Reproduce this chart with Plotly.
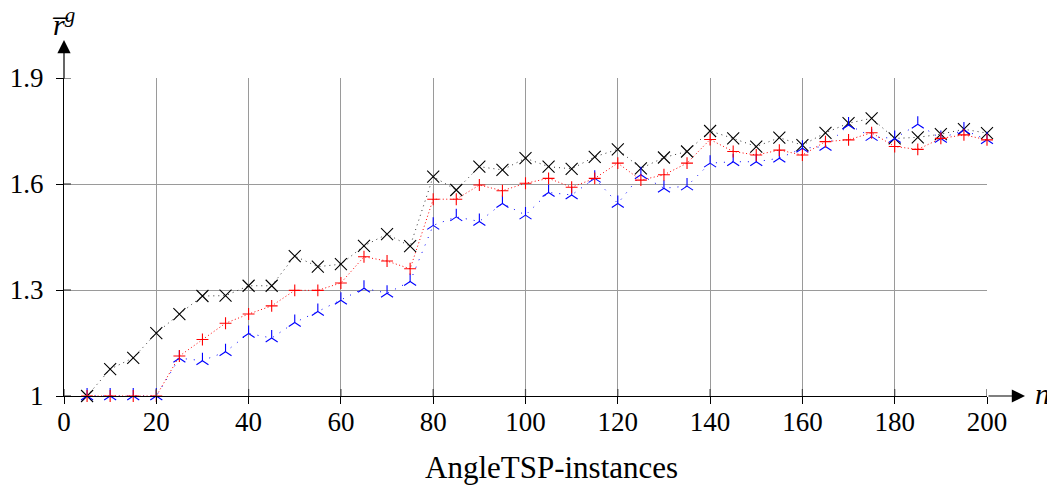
import plotly.graph_objects as go

n_values = [5, 10, 15, 20, 25, 30, 35, 40, 45, 50, 55, 60, 65, 70, 75, 80, 85, 90, 95, 100,
            105, 110, 115, 120, 125, 130, 135, 140, 145, 150, 155, 160, 165, 170, 175, 180, 185, 190, 195, 200]

black_x = [1.000, 1.076, 1.108, 1.178, 1.232, 1.283, 1.284, 1.312, 1.312, 1.396,
           1.366, 1.373, 1.425, 1.458, 1.424, 1.621, 1.583, 1.649, 1.640, 1.673,
           1.649, 1.643, 1.677, 1.698, 1.644, 1.675, 1.692, 1.750, 1.729, 1.706,
           1.731, 1.710, 1.745, 1.772, 1.786, 1.729, 1.732, 1.741, 1.755, 1.744]

red_plus = [1.000, 1.000, 1.000, 1.000, 1.113, 1.160, 1.206, 1.232, 1.255, 1.299,
            1.299, 1.320, 1.394, 1.382, 1.360, 1.557, 1.557, 1.597, 1.581, 1.602,
            1.616, 1.591, 1.616, 1.659, 1.611, 1.626, 1.659, 1.726, 1.692, 1.682,
            1.696, 1.682, 1.720, 1.725, 1.745, 1.706, 1.698, 1.729, 1.739, 1.725]

blue_tri = [1.000, 1.000, 1.000, 1.000, 1.107, 1.100, 1.125, 1.177, 1.164, 1.208,
            1.239, 1.271, 1.305, 1.291, 1.324, 1.483, 1.507, 1.494, 1.545, 1.512,
            1.576, 1.569, 1.616, 1.545, 1.626, 1.588, 1.594, 1.659, 1.663, 1.663,
            1.673, 1.701, 1.706, 1.767, 1.734, 1.729, 1.769, 1.729, 1.753, 1.725]

x_ticks = [0, 20, 40, 60, 80, 100, 120, 140, 160, 180, 200]
y_ticks = [1, 1.3, 1.6, 1.9]
y_tick_text = ["1", "1.3", "1.6", "1.9"]

FONT = "Liberation Serif"

fig = go.Figure()
fig.add_trace(go.Scatter(
    x=n_values, y=black_x, mode="lines+markers", cliponaxis=False,
    line=dict(color="#333333", width=1, dash="1px,4px"),
    marker=dict(symbol="x-thin-open", size=12, color="black", line=dict(color="black", width=1.1)),
))
fig.add_trace(go.Scatter(
    x=n_values, y=blue_tri, mode="lines+markers", cliponaxis=False,
    line=dict(color="blue", width=1, dash="1px,7px"),
    marker=dict(symbol="y-up-open", size=10, color="blue", line=dict(color="blue", width=1.1)),
))
fig.add_trace(go.Scatter(
    x=n_values, y=red_plus, mode="lines+markers", cliponaxis=False,
    line=dict(color="red", width=1, dash="1px,2.5px"),
    marker=dict(symbol="cross-thin-open", size=8.5, color="red", line=dict(color="red", width=1.1)),
))

# inner halves of tick marks (pgfplots draws ticks across the axis)
shapes = []
for v in x_ticks:
    shapes.append(dict(type="line", xref="x", yref="y", x0=v, x1=v, y0=1, y1=1 + 7 / 353.3,
                       line=dict(color="#444444", width=1.2)))
for v in y_ticks:
    shapes.append(dict(type="line", xref="x", yref="y", x0=0, x1=7 / 4.615, y0=v, y1=v,
                       line=dict(color="#444444", width=1.2)))

# page body has an 8px margin: figure is offset by 8px
fig.update_layout(
    width=1047, height=477,
    margin=dict(l=56, r=68, t=70, b=89, autoexpand=False),
    paper_bgcolor="white", plot_bgcolor="white",
    showlegend=False,
    font=dict(family=FONT, size=27, color="black"),
    shapes=shapes,
    xaxis=dict(
        range=[0, 200], tickvals=x_ticks, ticktext=[str(v) for v in x_ticks],
        showgrid=True, gridcolor="#9a9a9a", gridwidth=1,
        showline=True, linecolor="black", linewidth=1.2,
        ticks="outside", ticklen=7, tickwidth=1.2, tickcolor="black",
        zeroline=False, tickfont=dict(family=FONT, size=27),
        ticklabelstandoff=-6, automargin=False,
    ),
    yaxis=dict(
        range=[1, 1.9], tickvals=y_ticks, ticktext=y_tick_text,
        showgrid=True, gridcolor="#9a9a9a", gridwidth=1,
        showline=True, linecolor="black", linewidth=1.2,
        ticks="outside", ticklen=7, tickwidth=1.2, tickcolor="black",
        zeroline=False, tickfont=dict(family=FONT, size=27),
        ticklabelstandoff=7, automargin=False,
    ),
    annotations=[
        dict(xref="paper", yref="paper", x=(1025 - 64) / 923, y=0, axref="pixel", ayref="pixel",
             ax=-(1025 - 987), ay=0, showarrow=True, arrowhead=2, arrowsize=2.2, arrowwidth=1.2,
             arrowcolor="black", text=""),
        dict(xref="paper", yref="paper", x=0, y=(396 - 40) / 318, axref="pixel", ayref="pixel",
             ax=0, ay=40, showarrow=True, arrowhead=2, arrowsize=2.2, arrowwidth=1.2,
             arrowcolor="black", text=""),
        dict(xref="paper", yref="paper", x=(1042 - 64) / 923, y=(396 - 393) / 318,
             text="<i>n</i>", showarrow=False, font=dict(family=FONT, size=30),
             xanchor="center", yanchor="middle"),
        dict(xref="paper", yref="paper", x=(63 - 64) / 923, y=(396 - 22) / 318,
             text="<i>r\u0305</i><sup><i>g</i></sup>", showarrow=False, font=dict(family=FONT, size=30),
             xanchor="center", yanchor="middle"),
        dict(xref="paper", yref="paper", x=(551.5 - 64) / 923, y=(396 - 467) / 318,
             text="AngleTSP-instances", showarrow=False, font=dict(family=FONT, size=31),
             xanchor="center", yanchor="middle"),
    ],
)

fig.write_html("out.html")
